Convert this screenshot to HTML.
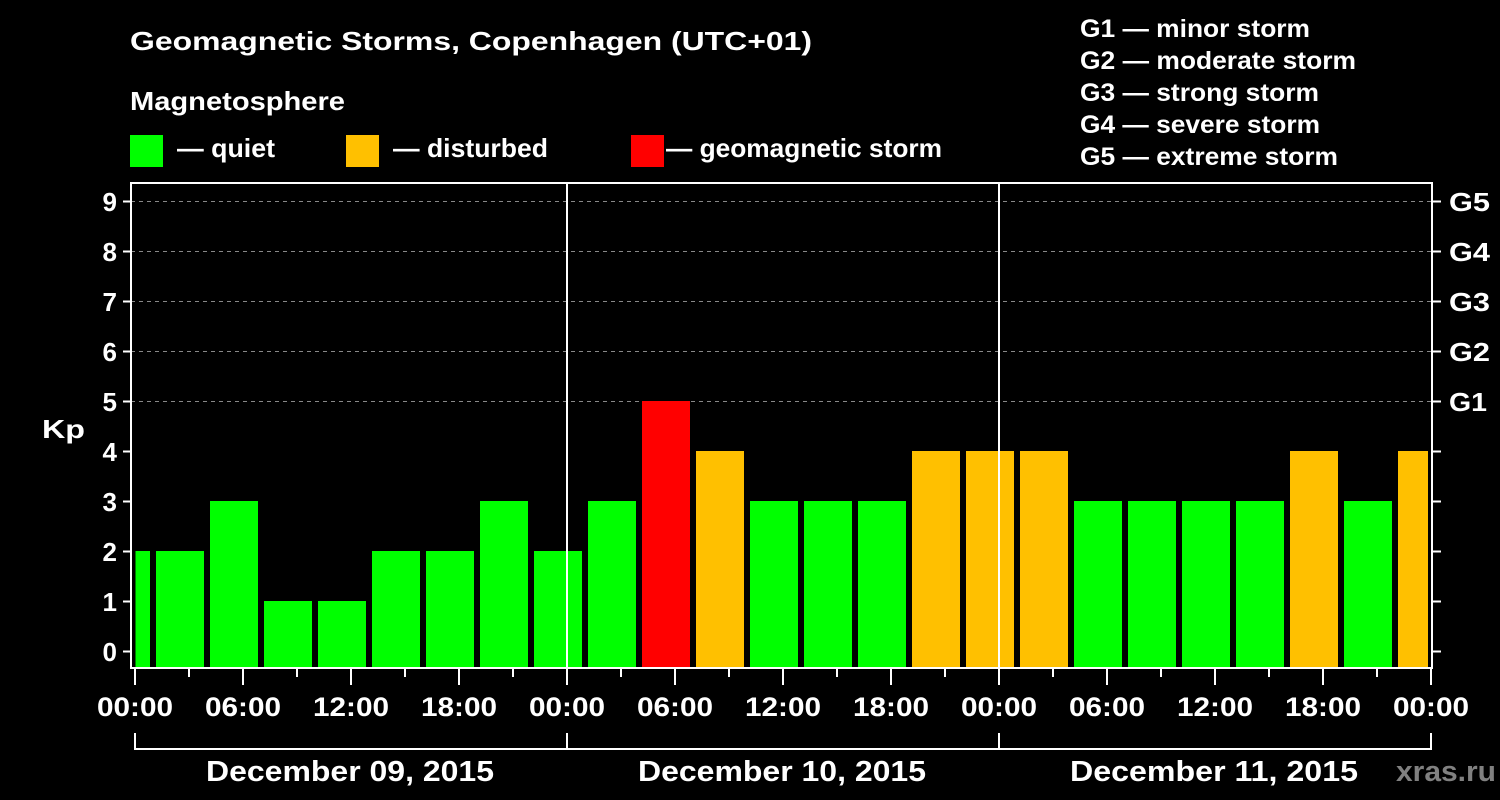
<!DOCTYPE html>
<html><head><meta charset="utf-8"><style>
html,body{margin:0;padding:0;background:#000;}
svg{display:block;}
text{font-family:"Liberation Sans",Arial,sans-serif;font-weight:bold;fill:#fff;}
</style></head><body>
<svg width="1500" height="800" viewBox="0 0 1500 800" xmlns="http://www.w3.org/2000/svg">
<rect width="1500" height="800" fill="#000"/>
<text x="130" y="50" font-size="26" textLength="682" lengthAdjust="spacingAndGlyphs">Geomagnetic Storms, Copenhagen (UTC+01)</text>
<text x="130" y="110" font-size="26" textLength="215" lengthAdjust="spacingAndGlyphs">Magnetosphere</text>
<rect x="130" y="135" width="33" height="32" fill="#00ff00"/>
<text x="177" y="157" font-size="26" textLength="98" lengthAdjust="spacingAndGlyphs">— quiet</text>
<rect x="346" y="135" width="33" height="32" fill="#ffc000"/>
<text x="393" y="157" font-size="26" textLength="155" lengthAdjust="spacingAndGlyphs">— disturbed</text>
<rect x="631" y="135" width="33" height="32" fill="#ff0000"/>
<text x="666" y="157" font-size="26" textLength="276" lengthAdjust="spacingAndGlyphs">— geomagnetic storm</text>
<g font-size="25">
<text x="1080" y="37" textLength="230" lengthAdjust="spacingAndGlyphs">G1 — minor storm</text>
<text x="1080" y="69" textLength="276" lengthAdjust="spacingAndGlyphs">G2 — moderate storm</text>
<text x="1080" y="101" textLength="239" lengthAdjust="spacingAndGlyphs">G3 — strong storm</text>
<text x="1080" y="133" textLength="240" lengthAdjust="spacingAndGlyphs">G4 — severe storm</text>
<text x="1080" y="165" textLength="258" lengthAdjust="spacingAndGlyphs">G5 — extreme storm</text>
</g>
<g stroke="#888" stroke-width="1" stroke-dasharray="4,4">
<line x1="131" y1="201.5" x2="1431" y2="201.5"/>
<line x1="131" y1="251.5" x2="1431" y2="251.5"/>
<line x1="131" y1="301.5" x2="1431" y2="301.5"/>
<line x1="131" y1="351.5" x2="1431" y2="351.5"/>
<line x1="131" y1="401.5" x2="1431" y2="401.5"/>
</g>
<rect x="135.5" y="551" width="14.5" height="117" fill="#00ff00"/>
<g>
<rect x="156" y="551" width="48" height="117" fill="#00ff00"/>
<rect x="210" y="501" width="48" height="167" fill="#00ff00"/>
<rect x="264" y="601" width="48" height="67" fill="#00ff00"/>
<rect x="318" y="601" width="48" height="67" fill="#00ff00"/>
<rect x="372" y="551" width="48" height="117" fill="#00ff00"/>
<rect x="426" y="551" width="48" height="117" fill="#00ff00"/>
<rect x="480" y="501" width="48" height="167" fill="#00ff00"/>
<rect x="534" y="551" width="48" height="117" fill="#00ff00"/>
<rect x="588" y="501" width="48" height="167" fill="#00ff00"/>
<rect x="642" y="401" width="48" height="267" fill="#ff0000"/>
<rect x="696" y="451" width="48" height="217" fill="#ffc000"/>
<rect x="750" y="501" width="48" height="167" fill="#00ff00"/>
<rect x="804" y="501" width="48" height="167" fill="#00ff00"/>
<rect x="858" y="501" width="48" height="167" fill="#00ff00"/>
<rect x="912" y="451" width="48" height="217" fill="#ffc000"/>
<rect x="966" y="451" width="48" height="217" fill="#ffc000"/>
<rect x="1020" y="451" width="48" height="217" fill="#ffc000"/>
<rect x="1074" y="501" width="48" height="167" fill="#00ff00"/>
<rect x="1128" y="501" width="48" height="167" fill="#00ff00"/>
<rect x="1182" y="501" width="48" height="167" fill="#00ff00"/>
<rect x="1236" y="501" width="48" height="167" fill="#00ff00"/>
<rect x="1290" y="451" width="48" height="217" fill="#ffc000"/>
<rect x="1344" y="501" width="48" height="167" fill="#00ff00"/>
<rect x="1398" y="451" width="30" height="217" fill="#ffc000"/>
</g>
<g stroke="#fff" stroke-width="2">
<line x1="567" y1="183" x2="567" y2="668"/>
<line x1="999" y1="183" x2="999" y2="668"/>
</g>
<rect x="131" y="183" width="1301" height="485" fill="none" stroke="#fff" stroke-width="2"/>
<g stroke="#fff" stroke-width="2">
<line x1="123" y1="201.5" x2="131" y2="201.5"/>
<line x1="123" y1="251.5" x2="131" y2="251.5"/>
<line x1="123" y1="301.5" x2="131" y2="301.5"/>
<line x1="123" y1="351.5" x2="131" y2="351.5"/>
<line x1="123" y1="401.5" x2="131" y2="401.5"/>
<line x1="123" y1="451.5" x2="131" y2="451.5"/>
<line x1="123" y1="501.5" x2="131" y2="501.5"/>
<line x1="123" y1="551.5" x2="131" y2="551.5"/>
<line x1="123" y1="601.5" x2="131" y2="601.5"/>
<line x1="123" y1="651.5" x2="131" y2="651.5"/>
<line x1="1432" y1="201.5" x2="1441" y2="201.5"/>
<line x1="1432" y1="251.5" x2="1441" y2="251.5"/>
<line x1="1432" y1="301.5" x2="1441" y2="301.5"/>
<line x1="1432" y1="351.5" x2="1441" y2="351.5"/>
<line x1="1432" y1="401.5" x2="1441" y2="401.5"/>
<line x1="1432" y1="451.5" x2="1441" y2="451.5"/>
<line x1="1432" y1="501.5" x2="1441" y2="501.5"/>
<line x1="1432" y1="551.5" x2="1441" y2="551.5"/>
<line x1="1432" y1="601.5" x2="1441" y2="601.5"/>
<line x1="1432" y1="651.5" x2="1441" y2="651.5"/>
</g>
<g font-size="26" text-anchor="end">
<text x="117" y="211">9</text><text x="117" y="261">8</text><text x="117" y="311">7</text>
<text x="117" y="361">6</text><text x="117" y="411">5</text><text x="117" y="461">4</text>
<text x="117" y="511">3</text><text x="117" y="561">2</text><text x="117" y="611">1</text>
<text x="117" y="661">0</text>
</g>
<text x="42" y="438" font-size="26" textLength="43" lengthAdjust="spacingAndGlyphs">Kp</text>
<g font-size="26">
<text x="1449" y="211" textLength="41" lengthAdjust="spacingAndGlyphs">G5</text><text x="1449" y="261" textLength="41" lengthAdjust="spacingAndGlyphs">G4</text><text x="1449" y="311" textLength="41" lengthAdjust="spacingAndGlyphs">G3</text>
<text x="1449" y="361" textLength="41" lengthAdjust="spacingAndGlyphs">G2</text><text x="1449" y="411" textLength="38" lengthAdjust="spacingAndGlyphs">G1</text>
</g>
<g stroke="#fff" stroke-width="2">
<line x1="135" y1="669" x2="135" y2="685"/><line x1="189" y1="669" x2="189" y2="677"/>
<line x1="243" y1="669" x2="243" y2="685"/><line x1="297" y1="669" x2="297" y2="677"/>
<line x1="351" y1="669" x2="351" y2="685"/><line x1="405" y1="669" x2="405" y2="677"/>
<line x1="459" y1="669" x2="459" y2="685"/><line x1="513" y1="669" x2="513" y2="677"/>
<line x1="567" y1="669" x2="567" y2="685"/><line x1="621" y1="669" x2="621" y2="677"/>
<line x1="675" y1="669" x2="675" y2="685"/><line x1="729" y1="669" x2="729" y2="677"/>
<line x1="783" y1="669" x2="783" y2="685"/><line x1="837" y1="669" x2="837" y2="677"/>
<line x1="891" y1="669" x2="891" y2="685"/><line x1="945" y1="669" x2="945" y2="677"/>
<line x1="999" y1="669" x2="999" y2="685"/><line x1="1053" y1="669" x2="1053" y2="677"/>
<line x1="1107" y1="669" x2="1107" y2="685"/><line x1="1161" y1="669" x2="1161" y2="677"/>
<line x1="1215" y1="669" x2="1215" y2="685"/><line x1="1269" y1="669" x2="1269" y2="677"/>
<line x1="1323" y1="669" x2="1323" y2="685"/><line x1="1377" y1="669" x2="1377" y2="677"/>
<line x1="1431" y1="669" x2="1431" y2="685"/>
</g>
<g font-size="27">
<text x="97" y="716" textLength="76" lengthAdjust="spacingAndGlyphs">00:00</text>
<text x="205" y="716" textLength="76" lengthAdjust="spacingAndGlyphs">06:00</text>
<text x="313" y="716" textLength="76" lengthAdjust="spacingAndGlyphs">12:00</text>
<text x="421" y="716" textLength="76" lengthAdjust="spacingAndGlyphs">18:00</text>
<text x="529" y="716" textLength="76" lengthAdjust="spacingAndGlyphs">00:00</text>
<text x="637" y="716" textLength="76" lengthAdjust="spacingAndGlyphs">06:00</text>
<text x="745" y="716" textLength="76" lengthAdjust="spacingAndGlyphs">12:00</text>
<text x="853" y="716" textLength="76" lengthAdjust="spacingAndGlyphs">18:00</text>
<text x="961" y="716" textLength="76" lengthAdjust="spacingAndGlyphs">00:00</text>
<text x="1069" y="716" textLength="76" lengthAdjust="spacingAndGlyphs">06:00</text>
<text x="1177" y="716" textLength="76" lengthAdjust="spacingAndGlyphs">12:00</text>
<text x="1285" y="716" textLength="76" lengthAdjust="spacingAndGlyphs">18:00</text>
<text x="1393" y="716" textLength="76" lengthAdjust="spacingAndGlyphs">00:00</text>
</g>
<g stroke="#fff" stroke-width="2" fill="none">
<polyline points="135,733 135,749 1431,749 1431,733"/>
<line x1="567" y1="733" x2="567" y2="749"/>
<line x1="999" y1="733" x2="999" y2="749"/>
</g>
<g font-size="29">
<text x="206" y="781" textLength="288" lengthAdjust="spacingAndGlyphs">December 09, 2015</text>
<text x="638" y="781" textLength="288" lengthAdjust="spacingAndGlyphs">December 10, 2015</text>
<text x="1070" y="781" textLength="288" lengthAdjust="spacingAndGlyphs">December 11, 2015</text>
</g>
<text x="1396" y="781" font-size="29" textLength="100" lengthAdjust="spacingAndGlyphs" style="fill:#808080">xras.ru</text>
</svg>
</body></html>
